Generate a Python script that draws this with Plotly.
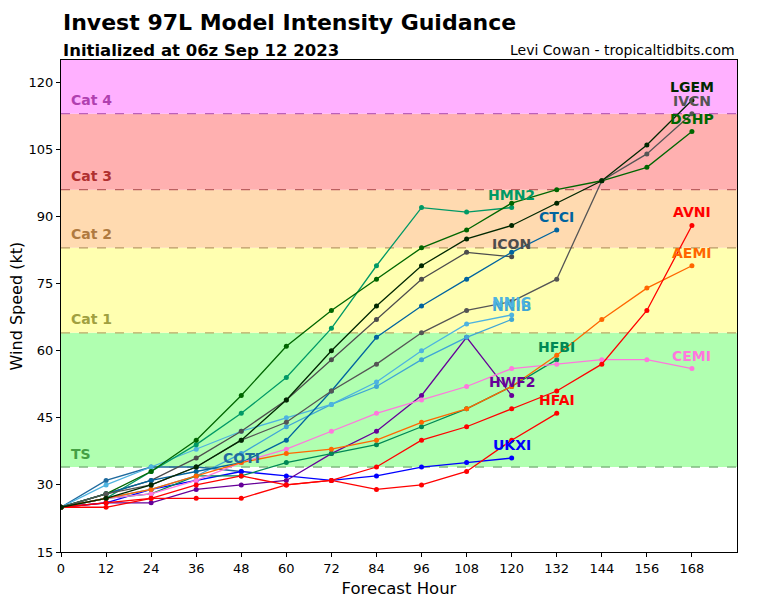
import plotly.graph_objects as go

hours = [0, 12, 24, 36, 48, 60, 72, 84, 96, 108, 120, 132, 144, 156, 168]

LGEM = [25, 27, 30, 34, 40, 49, 60, 70, 79, 85, 88, 93, 98, 106, 116]
IVCN = [25, 28, 30, 34, 40, 44, 51, 57, 64, 69, 71, 76, 98, 104, 113]
DSHP = [25, 28, 33, 40, 50, 61, 69, 76, 83, 87, 93, 96, 98, 101, 109]
AVNI = [25, 26, 27, 30, 32, 30, 31, 34, 40, 43, 47, 51, 57, 69, 88]
AEMI = [25, 27, 29, 32, 35, 37, 38, 40, 44, 47, 52, 59, 67, 74, 79]
CEMI = [25, 27, 28, 31, 35, 38, 42, 46, 49, 52, 56, 57, 58, 58, 56]
HFBI = [25, 27, 28, 32, 32, 35, 37, 39, 43, 47, 52, 58]
HFAI = [25, 25, 27, 27, 27, 30, 31, 29, 30, 33, 40, 46]
CTCI = [25, 28, 31, 33, 35, 40, 51, 63, 70, 76, 82, 87]
HMN2 = [25, 27, 33, 39, 46, 54, 65, 79, 92, 91, 92]
ICON = [25, 28, 31, 36, 42, 49, 58, 67, 76, 82, 81]
NNIC = [25, 30, 34, 38, 42, 45, 48, 53, 60, 66, 68]
NNIB = [25, 27, 29, 32, 37, 43, 48, 52, 58, 63, 67]
HWF2 = [25, 26, 26, 29, 30, 31, 37, 42, 50, 63, 50]
UKXI = [25, 26, 29, 31, 33, 32, 31, 32, 34, 35, 36]
COTI = [25, 31, 34, 34, 33]

model_names = ["COTI", "UKXI", "HWF2", "NNIB", "NNIC", "ICON", "HMN2", "CTCI",
               "HFAI", "HFBI", "CEMI", "AEMI", "AVNI", "DSHP", "IVCN", "LGEM"]
model_values = [COTI, UKXI, HWF2, NNIB, NNIC, ICON, HMN2, CTCI,
                HFAI, HFBI, CEMI, AEMI, AVNI, DSHP, IVCN, LGEM]
model_colors = ["#1f6a9e", "#0000ff", "#660099", "#3fa6d6", "#4db3e0", "#4d4d4d",
                "#009966", "#00649f", "#ff0000", "#008855", "#ff77dd", "#ff6600",
                "#ff0000", "#006600", "#555555", "#002800"]

cat_names = ["TS", "Cat 1", "Cat 2", "Cat 3", "Cat 4"]
cat_lower = [34, 64, 83, 96, 113]
cat_upper = [64, 83, 96, 113, 140]
cat_fill = ["#b0ffb0", "#ffffb0", "#ffdab0", "#ffb0b0", "#ffb0ff"]
cat_line = ["#80bb80", "#bbaa66", "#bb9966", "#bb6060", "#bb60bb"]
cat_text = ["#44a044", "#a0a040", "#b07a40", "#b03030", "#b040b0"]

x_ticks = list(range(0, 169, 12))
y_ticks = list(range(15, 121, 15))

fig = go.Figure()

shapes = []
for lo, hi, fc, lc in zip(cat_lower, cat_upper, cat_fill, cat_line):
    shapes.append(dict(type="rect", xref="paper", yref="y", x0=0, x1=1, y0=lo, y1=hi,
                       fillcolor=fc, line=dict(width=0), layer="below"))
    shapes.append(dict(type="line", xref="paper", yref="y", x0=0, x1=1, y0=lo, y1=lo,
                       line=dict(color=lc, width=1.3, dash="dash"), layer="below"))

annotations = []
for name, lo, tc in zip(cat_names, cat_lower, cat_text):
    annotations.append(dict(x=2, y=lo + 3, xref="x", yref="y", text=name, showarrow=False,
                            xanchor="left", yanchor="middle",
                            font=dict(family="DejaVu Sans", size=14, color=tc, weight="bold")))

for name, vals, col in zip(model_names, model_values, model_colors):
    xs = hours[:len(vals)]
    fig.add_trace(go.Scatter(x=xs, y=vals, mode="lines+markers", name=name,
                             line=dict(color=col, width=1.3),
                             marker=dict(color=col, size=5), showlegend=False))
    annotations.append(dict(x=xs[-1], y=vals[-1], xref="x", yref="y", text=name,
                            showarrow=False, xanchor="center", yanchor="middle", yshift=13,
                            font=dict(family="DejaVu Sans", size=14, color=col, weight="bold")))

annotations.append(dict(x=0, y=1.077, xref="paper", yref="paper",
                        text="Invest 97L Model Intensity Guidance", showarrow=False,
                        xanchor="left", yanchor="middle",
                        font=dict(family="DejaVu Sans", size=22, color="black", weight="bold")))
annotations.append(dict(x=0, y=1.02, xref="paper", yref="paper",
                        text="Initialized at 06z Sep 12 2023", showarrow=False,
                        xanchor="left", yanchor="middle",
                        font=dict(family="DejaVu Sans", size=16.5, color="black", weight="bold")))
annotations.append(dict(x=1, y=1.02, xref="paper", yref="paper",
                        text="Levi Cowan - tropicaltidbits.com", showarrow=False,
                        xanchor="right", yanchor="middle",
                        font=dict(family="DejaVu Sans", size=14, color="black")))
annotations.append(dict(x=-0.066, y=0.5, xref="paper", yref="paper",
                        text="Wind Speed (kt)", showarrow=False, textangle=-90,
                        xanchor="center", yanchor="middle",
                        font=dict(family="DejaVu Sans", size=16, color="black")))

# page body has an 8px margin: size the figure so it fits the 768x600 window
fig.update_layout(
    width=760, height=592,
    margin=dict(l=53, r=31, t=52, b=48, autoexpand=False),
    paper_bgcolor="white", plot_bgcolor="white",
    shapes=shapes, annotations=annotations,
    font=dict(family="DejaVu Sans", size=13, color="black"),
    xaxis=dict(range=[0, 180], tickvals=x_ticks, ticks="outside", ticklen=4,
               tickcolor="black", showgrid=False, zeroline=False, automargin=False,
               showline=True, linecolor="black", linewidth=1, mirror=True,
               title=dict(text="Forecast Hour", font=dict(size=16.5), standoff=7)),
    yaxis=dict(range=[15, 125], tickvals=y_ticks, ticks="outside", ticklen=4,
               tickcolor="black", showgrid=False, zeroline=False, automargin=False,
               showline=True, linecolor="black", linewidth=1, mirror=True),
)

fig.write_html("out.html")
